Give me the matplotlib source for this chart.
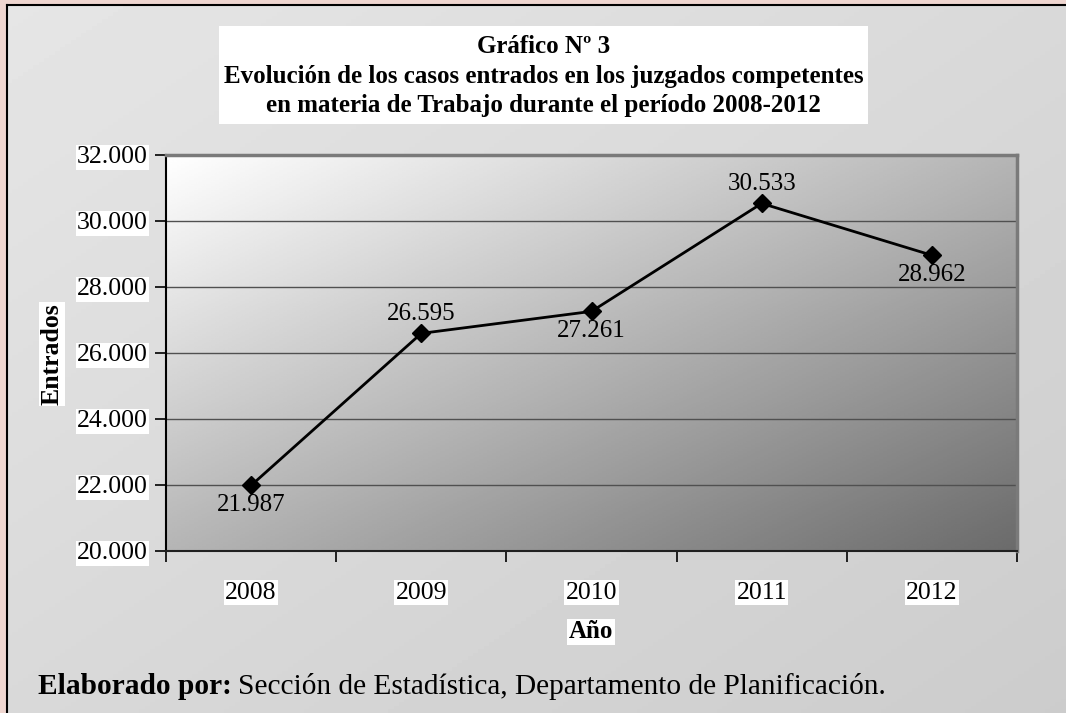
import matplotlib.pyplot as plt
import numpy as np
from matplotlib.lines import Line2D
from matplotlib.patches import Rectangle

#######################################
#### Data
#######################################
years = ["2008", "2009", "2010", "2011", "2012"]
entrados = [21987, 26595, 27261, 30533, 28962]
label_pos = ["below", "above", "below", "above", "below"]
yticks = [20000, 22000, 24000, 26000, 28000, 30000, 32000]

def fmt(v):
   return f"{v:,}".replace(",", ".")

#######################################
#### Figure
#######################################
W, H = 1066, 713
plt.rcParams['font.family'] = ['Liberation Serif', 'DejaVu Serif']
fig = plt.figure(figsize=(W / 100, H / 100), dpi=100)
fig.patch.set_facecolor("#efd6d0")

def diag_grad(c0, c1, n=200):
   xx, yy = np.meshgrid(np.linspace(0, 1, n), np.linspace(0, 1, n))
   t = (xx + yy) / 2.0          # 0 top-left, 1 bottom-right
   return (c0 + (c1 - c0) * t)

# outer chart panel (light grey gradient)
x0, y0 = 7 / W, 1 - 5 / H
bg = fig.add_axes([x0, 0, 1 - x0, y0])
bg.imshow(diag_grad(0.90, 0.80), cmap="gray", vmin=0, vmax=1,
          extent=[0, 1, 0, 1], aspect="auto")
bg.axis("off")
fig.add_artist(Line2D([x0, x0], [0, y0], color="black", lw=1.5))
fig.add_artist(Line2D([x0, 1], [y0, y0], color="black", lw=1.5))

# plot area
L, R, T, B = 166, 1017, 155, 551
ax = fig.add_axes([L / W, 1 - B / H, (R - L) / W, (B - T) / H])
ax.imshow(diag_grad(1.0, 0.42), cmap="gray", vmin=0, vmax=1,
          extent=[0, 1, 0, 1], transform=ax.transAxes, aspect="auto", zorder=0)

x = np.arange(len(years)) + 0.5
ax.set_xlim(0, len(years))
ax.set_ylim(yticks[0], yticks[-1])

for yt in yticks[1:-1]:
   ax.axhline(yt, color="#505050", lw=1.0, zorder=1)

ax.plot(x, entrados, color="black", lw=2.0, marker="D", markersize=9, zorder=3)

for xi, v, pos in zip(x, entrados, label_pos):
   dy = 6 if pos == "above" else -6
   ax.annotate(fmt(v), (xi, v), xytext=(0, dy), textcoords="offset points",
               ha="center", va="bottom" if pos == "above" else "top",
               fontsize=18, zorder=4)

# axes styling
ax.set_yticks(yticks)
ax.set_yticklabels([fmt(v) for v in yticks], fontsize=18.5)
for lab in ax.get_yticklabels():
   lab.set_bbox(dict(facecolor="white", edgecolor="none", pad=1))
ax.set_xticks(np.arange(len(years) + 1))
ax.set_xticklabels([])
ax.set_xticks(x, minor=True)
ax.set_xticklabels(years, minor=True, fontsize=18.5)
for lab in ax.get_xticklabels(minor=True):
   lab.set_bbox(dict(facecolor="white", edgecolor="none", pad=1))
ax.tick_params(axis="x", which="minor", length=0, pad=22)
ax.tick_params(axis="x", which="major", length=8, width=1.2, direction="out")
ax.tick_params(axis="y", length=8, width=1.2, direction="out", pad=5)

ax.spines["left"].set_color("black")
ax.spines["left"].set_linewidth(1.5)
ax.spines["bottom"].set_color("#202020")
ax.spines["bottom"].set_linewidth(1.5)
ax.spines["top"].set_color("#7a7a7a")
ax.spines["top"].set_linewidth(2.5)
ax.spines["right"].set_color("#7a7a7a")
ax.spines["right"].set_linewidth(2.5)

# titles and labels
fig.add_artist(Rectangle((219 / W, 1 - 124 / H), (868 - 219) / W, 98 / H,
                         transform=fig.transFigure, facecolor="white",
                         edgecolor="none"))
fig.text(543.5 / W, 1 - 76 / H,
         "Gráfico Nº 3\nEvolución de los casos entrados en los juzgados competentes\n"
         "en materia de Trabajo durante el período 2008-2012",
         ha="center", va="center", fontsize=18, fontweight="bold", linespacing=1.38)
fig.text(52 / W, 1 - 354 / H, "Entrados", rotation=90, ha="center", va="center",
         fontsize=18.5, fontweight="bold",
         bbox=dict(facecolor="white", edgecolor="none", pad=1))
fig.text(591 / W, 1 - 632 / H, "Año", ha="center", va="center",
         fontsize=18, fontweight="bold",
         bbox=dict(facecolor="white", edgecolor="none", pad=1))

t1 = fig.text(38 / W, 1 - 694 / H, "Elaborado por:", ha="left", va="baseline",
              fontsize=21.2, fontweight="bold")
fig.canvas.draw()
bb = t1.get_window_extent()
fig.text(bb.x1 / W + 6 / W, 1 - 694 / H,
         "Sección de Estadística, Departamento de Planificación.",
         ha="left", va="baseline", fontsize=21.2)

fig.savefig("out.png", dpi=100, facecolor=fig.get_facecolor())
